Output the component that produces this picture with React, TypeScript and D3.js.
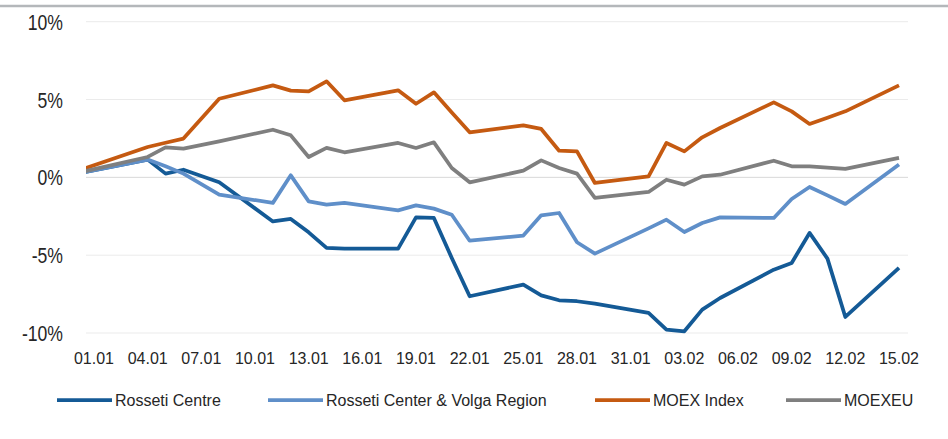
import React, { useEffect, useRef } from 'react';
import * as d3 from 'd3';

// trading days, 30.12 is the base (0%)
const dates = ['30.12', '04.01', '05.01', '06.01', '08.01', '11.01', '12.01', '13.01', '14.01', '15.01',
  '18.01', '19.01', '20.01', '21.01', '22.01', '25.01', '26.01', '27.01', '28.01', '29.01',
  '01.02', '02.02', '03.02', '04.02', '05.02', '08.02', '09.02', '10.02', '11.02', '12.02', '15.02'];

const rossetiCentre = [0, 1.14, 0.24, 0.49, -0.32, -2.83, -2.67, -3.53, -4.53, -4.58,
  -4.58, -2.57, -2.61, -5.18, -7.64, -6.89, -7.58, -7.9, -7.96, -8.11,
  -8.71, -9.78, -9.89, -8.5, -7.75, -5.93, -5.5, -3.57, -5.22, -8.97, -5.82];

const rossetiVolga = [0, 1.14, 0.71, 0.24, -1.11, -1.64, 0.13, -1.54, -1.75, -1.64,
  -2.12, -1.8, -2.01, -2.4, -4.07, -3.74, -2.44, -2.29, -4.17, -4.9,
  -3.28, -2.72, -3.51, -2.93, -2.57, -2.61, -1.39, -0.62, -1.16, -1.71, 0.82];

const moexIndex = [0, 1.95, 2.22, 2.49, 5.05, 5.91, 5.57, 5.52, 6.17, 4.95,
  5.59, 4.73, 5.46, 4.17, 2.89, 3.34, 3.11, 1.71, 1.67, -0.36,
  0.06, 2.21, 1.67, 2.57, 3.17, 4.82, 4.24, 3.43, 3.83, 4.24, 5.91];

const moexeu = [0, 1.31, 1.93, 1.84, 2.31, 3.06, 2.7, 1.31, 1.89, 1.61,
  2.21, 1.89, 2.25, 0.6, -0.32, 0.43, 1.09, 0.6, 0.24, -1.32,
  -0.94, -0.15, -0.47, 0.06, 0.17, 1.07, 0.71, 0.71, 0.63, 0.54, 1.25];

const tickLabels = ['01.01', '04.01', '07.01', '10.01', '13.01', '16.01', '19.01', '22.01',
  '25.01', '28.01', '31.01', '03.02', '06.02', '09.02', '12.02', '15.02'];

const yTicks = [10, 5, 0, -5, -10];

const seriesNames = ['Rosseti Centre', 'Rosseti Center & Volga Region', 'MOEX Index', 'MOEXEU'];
const seriesColors = ['#145a96', '#5f8fc9', '#c55a11', '#7f7f7f'];

// day offset from 01.01
const dayIndex = (s: string) => {
  const [d, m] = s.split('.').map(Number);
  if (m === 12) return d - 32;
  if (m === 1) return d - 1;
  return 31 + d - 1;
};

function App() {
  const svgRef = useRef<SVGSVGElement>(null);

  useEffect(() => {
    const svg = d3.select(svgRef.current);
    svg.selectAll('*').remove();

    const plotLeft = 86;
    const plotRight = 908;
    const x = d3.scaleLinear().domain([0, 45]).range([94, 899]);
    const y = d3.scaleLinear().domain([-10, 10]).range([333, 21.7]);
    const font = '"Liberation Sans", Arial, sans-serif';

    // top border
    svg.append('line')
      .attr('x1', 0).attr('x2', 948)
      .attr('y1', 6).attr('y2', 6)
      .attr('stroke', '#b4b7ba').attr('stroke-width', 2.5);

    svg.append('defs').append('clipPath').attr('id', 'plot')
      .append('rect')
      .attr('x', plotLeft).attr('y', 0)
      .attr('width', plotRight - plotLeft).attr('height', 439);

    // grid
    svg.append('g').selectAll('line')
      .data(yTicks)
      .enter().append('line')
      .attr('x1', plotLeft).attr('x2', plotRight)
      .attr('y1', d => y(d)).attr('y2', d => y(d))
      .attr('stroke', d => (d === 0 ? '#d9d9d9' : '#ebebeb'))
      .attr('stroke-width', 1);

    // y labels, squeezed to look condensed
    svg.append('g').selectAll('text')
      .data(yTicks)
      .enter().append('text')
      .attr('transform', d => `translate(63,${y(d) + 8}) scale(0.8,1)`)
      .attr('text-anchor', 'end')
      .attr('font-family', font)
      .attr('font-size', 22)
      .attr('fill', '#262626')
      .text(d => `${d}%`);

    svg.append('g').selectAll('text')
      .data(tickLabels)
      .enter().append('text')
      .attr('x', d => x(dayIndex(d)))
      .attr('y', 363.5)
      .attr('text-anchor', 'middle')
      .attr('font-family', font)
      .attr('font-size', 16)
      .attr('fill', '#262626')
      .text(d => d);

    const allSeries = [rossetiCentre, rossetiVolga, moexIndex, moexeu];
    const line = d3.line<number>()
      .x((_, i) => x(dayIndex(dates[i])))
      .y(d => y(d));

    const lines = svg.append('g').attr('clip-path', 'url(#plot)');
    allSeries.forEach((values, k) => {
      lines.append('path')
        .datum(values)
        .attr('d', line)
        .attr('fill', 'none')
        .attr('stroke', seriesColors[k])
        .attr('stroke-width', 3.75)
        .attr('stroke-linejoin', 'round');
    });

    // legend
    const legendX = [57, 268, 595, 786];
    const legend = svg.append('g');
    seriesNames.forEach((name, k) => {
      legend.append('line')
        .attr('x1', legendX[k]).attr('x2', legendX[k] + 55)
        .attr('y1', 400).attr('y2', 400)
        .attr('stroke', seriesColors[k])
        .attr('stroke-width', 3.75);
      legend.append('text')
        .attr('x', legendX[k] + 58)
        .attr('y', 406)
        .attr('font-family', font)
        .attr('font-size', 16)
        .attr('fill', '#262626')
        .text(name);
    });
  }, []);

  return (
    <svg ref={svgRef} width={948} height={439}
      style={{ position: 'absolute', left: 0, top: 0, background: '#fff' }} />
  );
}

export default App;
